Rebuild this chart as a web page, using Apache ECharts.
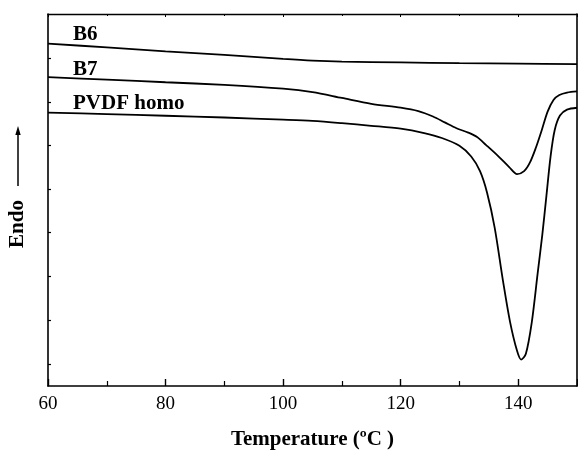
<!DOCTYPE html>
<html>
<head>
<meta charset="utf-8">
<script src="https://cdn.jsdelivr.net/npm/echarts@6/dist/echarts.min.js"></script>
<style>
  html, body { margin: 0; padding: 0; background: #fff; overflow: hidden; }
  #chart { width: 578px; height: 455px; }
</style>
</head>
<body>
<div id="chart"></div>
<script>
// DSC heating traces: temperature (°C) vs heat flow (a.u., endo up)
const seriesNames = ['B6', 'B7', 'PVDF homo'];

const b6Temp = [60, 70, 80, 90, 100, 105, 110, 120, 130, 140, 150];
const b6Flow = [35.07, 34.68, 34.28, 33.92, 33.5, 33.32, 33.22, 33.14, 33.07, 33.02, 32.97];

const b7Temp = [60, 70, 80, 90, 100, 105, 110, 115, 120, 123, 125.5, 127.5, 129.5, 131.5, 133, 134.5, 136.5, 138.5, 139.8, 141, 142, 143, 144, 145, 146, 147, 148.3, 150];
const b7Flow = [31.63, 31.37, 31.11, 30.84, 30.45, 30.1, 29.5, 28.9, 28.5, 28.15, 27.6, 27.0, 26.4, 25.95, 25.5, 24.7, 23.6, 22.4, 21.7, 22.0, 22.9, 24.4, 26.2, 28.1, 29.3, 29.8, 30.05, 30.17];

const pvdfTemp = [60, 70, 80, 90, 100, 105, 110, 115, 120, 124, 127, 130, 132, 133.5, 134.7, 136, 137.4, 138.6, 139.8, 140.5, 141.3, 142.3, 143.3, 144.1, 144.8, 145.5, 146.2, 147.1, 148.3, 150];
const pvdfFlow = [28.0, 27.85, 27.68, 27.5, 27.28, 27.15, 26.92, 26.65, 26.35, 25.9, 25.4, 24.6, 23.5, 22.0, 19.8, 16.2, 10.8, 6.6, 3.6, 2.7, 3.3, 6.5, 11.5, 15.5, 19.5, 23.5, 26.2, 27.7, 28.3, 28.5];

// Axis settings
const xMin = 60, xMax = 150, xStep = 20;
const yMin = 0, yMax = 38.1;
const yTickValues = [2.2, 6.7, 11.2, 15.7, 20.2, 24.7, 29.1, 33.6];

const pair = (xs, ys) => xs.map((x, i) => [x, ys[i]]);

const serif = '"Liberation Serif", "Times New Roman", serif';
const ink = '#000';

const chart = echarts.init(document.getElementById('chart'), null, { renderer: 'canvas', width: 578, height: 455 });

const lineSeries = (name, data) => ({
  name,
  type: 'line',
  data,
  smooth: 0.3,
  showSymbol: false,
  symbol: 'none',
  lineStyle: { color: ink, width: 1.8 },
  xAxisIndex: 0,
  yAxisIndex: 0,
  z: 3
});

chart.setOption({
  animation: false,
  backgroundColor: '#fff',
  grid: { left: 48, width: 529, top: 14, height: 381, containLabel: false },
  xAxis: [
    {
      type: 'value', position: 'bottom', min: xMin, max: xMax, interval: xStep,
      name: 'Temperature (ºC )', nameLocation: 'middle', nameGap: 43,
      nameTextStyle: { fontFamily: serif, fontWeight: 'bold', fontSize: 21, color: ink },
      axisLine: { show: true, onZero: false, lineStyle: { color: ink, width: 1.6 } },
      axisTick: { show: true, inside: true, length: 7, lineStyle: { color: ink, width: 1.4 } },
      minorTick: { show: true, splitNumber: 2, length: 5, lineStyle: { color: ink, width: 1.2 } },
      axisLabel: {
        fontFamily: serif, fontSize: 19, color: ink, margin: 9,
        showMaxLabel: false
      },
      splitLine: { show: false }
    },
    {
      type: 'value', position: 'top', min: xMin, max: xMax, interval: xStep,
      axisLine: { show: true, onZero: false, lineStyle: { color: ink, width: 1.4 } },
      axisTick: { show: true, inside: true, length: 3, lineStyle: { color: ink, width: 1 } },
      minorTick: { show: true, splitNumber: 2, length: 2, lineStyle: { color: ink, width: 1 } },
      axisLabel: { show: false },
      splitLine: { show: false }
    }
  ],
  yAxis: [
    {
      type: 'value', position: 'left', min: yMin, max: yMax,
      axisLine: { show: true, onZero: false, lineStyle: { color: ink, width: 1.6 } },
      axisTick: {
        show: true, inside: true, length: 3,
        customValues: yTickValues,
        lineStyle: { color: ink, width: 1.2 }
      },
      axisLabel: { show: false },
      splitLine: { show: false }
    },
    {
      type: 'value', position: 'right', min: yMin, max: yMax,
      axisLine: { show: true, onZero: false, lineStyle: { color: ink, width: 1.6 } },
      axisTick: { show: false },
      axisLabel: { show: false },
      splitLine: { show: false }
    }
  ],
  series: [
    lineSeries(seriesNames[0], pair(b6Temp, b6Flow)),
    lineSeries(seriesNames[1], pair(b7Temp, b7Flow)),
    lineSeries(seriesNames[2], pair(pvdfTemp, pvdfFlow))
  ],
  graphic: [
    // curve names
    { type: 'text', left: 73, top: 24, style: { text: seriesNames[0], font: 'bold 21px ' + serif, fill: ink } },
    { type: 'text', left: 73, top: 59, style: { text: seriesNames[1], font: 'bold 21px ' + serif, fill: ink } },
    { type: 'text', left: 73, top: 93, style: { text: seriesNames[2], font: 'bold 21px ' + serif, fill: ink } },
    // y-axis title with upward arrow
    {
      type: 'text', x: 18, y: 224, rotation: Math.PI / 2,
      style: { text: 'Endo', font: 'bold 21px ' + serif, fill: ink, align: 'center', verticalAlign: 'middle' }
    },
    { type: 'line', shape: { x1: 18, y1: 186, x2: 18, y2: 133 }, style: { stroke: ink, lineWidth: 1.5 } },
    { type: 'polygon', shape: { points: [[18, 126], [15.3, 135], [20.7, 135]] }, style: { fill: ink } }
  ]
});
</script>
</body>
</html>
